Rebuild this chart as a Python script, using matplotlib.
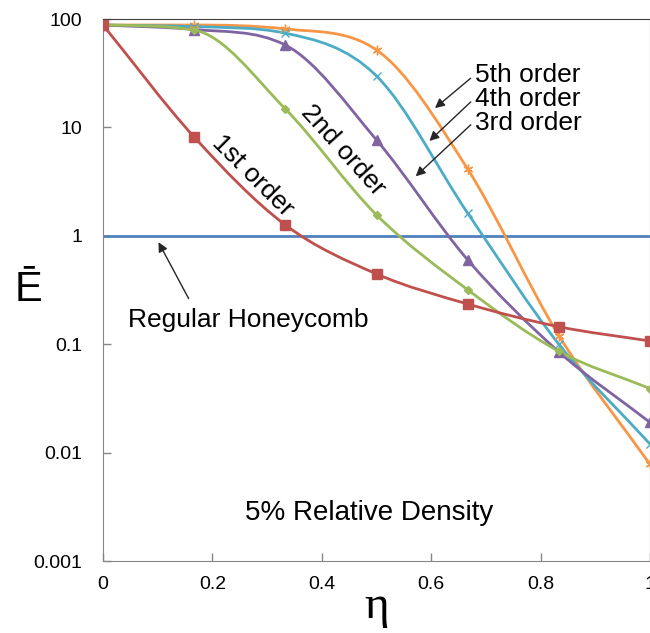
import numpy as np
import matplotlib
matplotlib.use("Agg")
import matplotlib.pyplot as plt
from matplotlib.path import Path
from matplotlib.patches import PathPatch

# data
eta = [0, 1 / 6, 1 / 3, 1 / 2, 2 / 3, 5 / 6, 1.0]
first_order = [88, 8.15, 1.26, 0.445, 0.235, 0.145, 0.107]
second_order = [88, 79, 14.8, 1.56, 0.318, 0.086, 0.039]
third_order = [88, 80, 57.5, 7.66, 0.60, 0.085, 0.019]
fourth_order = [88, 85, 74, 29.8, 1.62, 0.10, 0.012]
fifth_order = [88, 88, 81, 51.8, 4.13, 0.12, 0.0078]
regular = 1.0

x_ticks = [0, 0.2, 0.4, 0.6, 0.8, 1]
x_tick_labels = ["0", "0.2", "0.4", "0.6", "0.8", "1"]
y_ticks = [0.001, 0.01, 0.1, 1, 10, 100]
y_tick_labels = ["0.001", "0.01", "0.1", "1", "10", "100"]

RED = "#C0504D"
GREEN = "#9BBB59"
PURPLE = "#8064A2"
CYAN = "#4BACC6"
ORANGE = "#F79646"
BLUE = "#4F81BD"

plt.rcParams["font.family"] = ["Liberation Sans", "DejaVu Sans"]


def smooth_path(xs, ys):
    """Smoothed line through the points: monotone cubic in (x, log y)."""
    px = np.asarray(xs, float)
    py = np.log10(np.asarray(ys, float))
    h = np.diff(px)
    d = np.diff(py) / h
    m = np.zeros_like(py)
    m[0], m[-1] = d[0], d[-1]
    for k in range(1, len(py) - 1):
        if d[k - 1] * d[k] > 0:
            m[k] = (d[k - 1] + d[k]) / 2
    for k in range(len(d)):
        if d[k] == 0:
            m[k] = m[k + 1] = 0
            continue
        a, b = m[k] / d[k], m[k + 1] / d[k]
        s = a * a + b * b
        if s > 9:
            t = 3 / np.sqrt(s)
            m[k], m[k + 1] = t * a * d[k], t * b * d[k]
    verts = [(px[0], py[0])]
    codes = [Path.MOVETO]
    for k in range(len(d)):
        verts += [(px[k] + h[k] / 3, py[k] + m[k] * h[k] / 3),
                  (px[k + 1] - h[k] / 3, py[k + 1] - m[k + 1] * h[k] / 3),
                  (px[k + 1], py[k + 1])]
        codes += [Path.CURVE4] * 3
    verts = [(vx, 10 ** vy) for vx, vy in verts]
    return Path(verts, codes)


fig = plt.figure(figsize=(6.5, 6.33), dpi=100)
ax = fig.add_axes([103 / 650, 72 / 633, 547 / 650, 542 / 633])
ax.set_yscale("log")
ax.set_xlim(0, 1)
ax.set_ylim(0.001, 100)

ax.plot([0, 1], [regular, regular], color=BLUE, lw=2.0, zorder=2)

series = [
    (fifth_order, ORANGE, (6, 2, 0), 7, 1.0),
    (fourth_order, CYAN, "x", 6, 1.0),
    (third_order, PURPLE, "^", 7, 1.0),
    (second_order, GREEN, "D", 4.5, 1.0),
    (first_order, RED, "s", 6.5, 1.0),
]
for vals, col, mk, ms, mew in series:
    ax.add_patch(PathPatch(smooth_path(eta, vals), fill=False, edgecolor=col,
                           lw=2.0, transform=ax.transData, zorder=3))
    ax.plot(eta, vals, linestyle="none", marker=mk, ms=ms, color=col,
            mec=col, mew=mew, zorder=4)

ax.set_xticks(x_ticks)
ax.set_xticklabels(x_tick_labels)
ax.set_yticks(y_ticks)
ax.set_yticklabels(y_tick_labels)
ax.minorticks_off()
ax.tick_params(direction="in", length=6, width=1, color="#868686",
               labelsize=14)
ax.tick_params(axis="y", pad=15)
ax.tick_params(axis="x", pad=11)
for side in ["left", "bottom", "right"]:
    ax.spines[side].set_color("#868686")
ax.spines["top"].set_color("#404040")

ax.text(-0.137, 0.5, "Ē", fontsize=30, ha="center", va="center",
        transform=ax.transAxes)
ax.text(0.5, -0.085, "η", fontsize=34,
        family=["Liberation Serif", "DejaVu Serif"],
        ha="center", va="center", transform=ax.transAxes)

arrow = dict(arrowstyle="-|>", color="#262626", lw=1, mutation_scale=14)
ax.annotate("", xy=(0.099, 0.92), xytext=(0.159, 0.25), arrowprops=arrow)
ax.text(0.266, 0.167, "Regular Honeycomb", fontsize=19,
        ha="center", va="center")
ax.annotate("", xy=(0.603, 14.5), xytext=(0.676, 29.5), arrowprops=arrow)
ax.annotate("", xy=(0.593, 7.2), xytext=(0.676, 17.9), arrowprops=arrow)
ax.annotate("", xy=(0.568, 3.4), xytext=(0.676, 11.0), arrowprops=arrow)
ax.text(0.68, 30.4, "5th order", fontsize=19, ha="left", va="center")
ax.text(0.68, 18.2, "4th order", fontsize=19, ha="left", va="center")
ax.text(0.68, 11.0, "3rd order", fontsize=19, ha="left", va="center")

ax.text(0.273, 3.6, "1st order", fontsize=19, rotation=-45,
        ha="center", va="center", rotation_mode="anchor")
ax.text(0.438, 6.2, "2nd order", fontsize=19, rotation=-48,
        ha="center", va="center", rotation_mode="anchor")
ax.text(0.487, 0.00277, "5% Relative Density", fontsize=20,
        ha="center", va="center")

fig.savefig("out.png", dpi=100)
